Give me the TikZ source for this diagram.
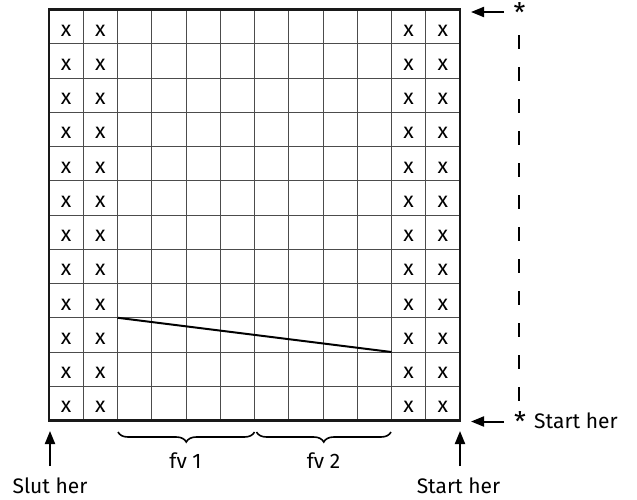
\documentclass[tikz,border=0pt]{standalone}
\usepackage{fontspec}
\setmainfont{Fira Sans}
\usetikzlibrary{arrows.meta,decorations.pathreplacing}
\begin{document}
\begin{tikzpicture}[x=1pt,y=-1pt,
  txt/.style={font=\fontsize{21}{25}\selectfont, inner sep=0pt},
  startxt/.style={font=\fontsize{27}{30}\selectfont, inner sep=0pt},
  cellx/.style={font=\fontsize{21.5}{25}\selectfont, inner sep=0pt, anchor=base},
  gridline/.style={line width=1pt, draw=black!70},
  border/.style={line width=2.7pt, draw=black!90},
  arr/.style={line width=2pt, -{Triangle[length=13pt,width=10pt]}},
  bracestyle/.style={line width=1.6pt, decorate, decoration={brace, mirror, amplitude=10pt}},
  dashline/.style={line width=2pt, dash pattern=on 14pt off 18pt},
  diag/.style={line width=2pt}]
\useasboundingbox (0,0) rectangle (637,499);
% grid lines
\foreach \i in {1,...,11}
  \draw[gridline] ({49+\i*34.25},9.5) -- ({49+\i*34.25},420.5);
\foreach \j in {1,...,11}
  \draw[gridline] (49,{9.5+\j*34.25}) -- (460,{9.5+\j*34.25});
\draw[border] (49,9.5) rectangle (460,420.5);
% x marks
\foreach \j in {0,...,11}
  \foreach \i in {0,1,10,11}
    \node[cellx] (x-\i-\j) at ({49+(\i+0.5)*34.25},{9.5+\j*34.25+26.5}) {x};
% diagonal
\coordinate (d1) at ({49+2*34.25},{9.5+9*34.25});
\coordinate (d2) at ({49+10*34.25},{9.5+10*34.25});
\draw[diag] (d1) -- (d2);
% braces
\coordinate (b1l) at (118,432);
\coordinate (b1r) at (254.5,432);
\coordinate (b2l) at (256.5,432);
\coordinate (b2r) at (391,432);
\draw[bracestyle] (b1l) -- (b1r);
\draw[bracestyle] (b2l) -- (b2r);
\node[txt] (fv1) at (185.5,461) {fv 1};
\node[txt] (fv2) at (323.5,461) {fv 2};
% bottom labels and up arrows
\node[txt, anchor=base] (slut) at (50,493) {Slut her};
\node[txt, anchor=base] (start1) at (458.5,493) {Start her};
\coordinate (ua1) at (50,466);
\coordinate (ua1t) at (50,431);
\coordinate (ua2) at (460,466);
\coordinate (ua2t) at (460,431);
\draw[arr] (ua1) -- (ua1t);
\draw[arr] (ua2) -- (ua2t);
% right side arrows
\node[startxt] (star1) at (519.5,13) {*};
\node[startxt] (star2) at (520,422) {*};
\node[txt, anchor=base west] (start2) at (534,428) {Start her};
\coordinate (ha1) at (504,12);
\coordinate (ha1t) at (471,12);
\coordinate (ha2) at (504,421.5);
\coordinate (ha2t) at (471,421.5);
\draw[arr] (ha1) -- (ha1t);
\draw[arr] (ha2) -- (ha2t);
% dashed vertical
\coordinate (v1) at (519,35);
\coordinate (v2) at (519,404);
\draw[dashline] (v1) -- (v2);
\end{tikzpicture}
\end{document}
